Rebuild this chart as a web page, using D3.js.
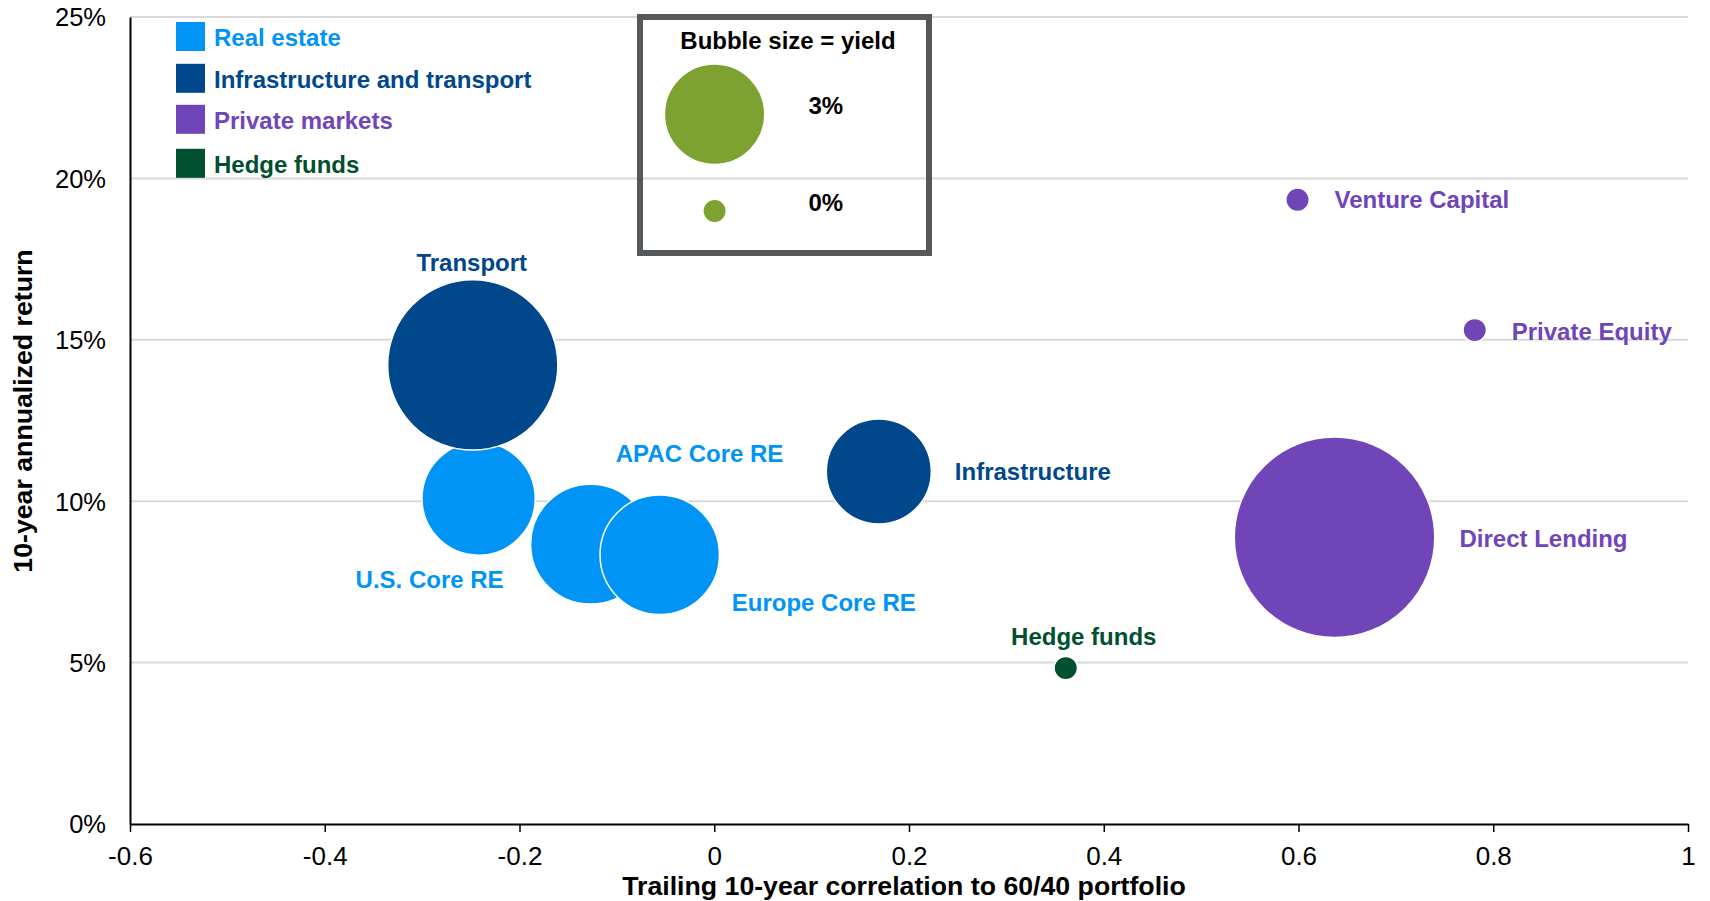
<!DOCTYPE html>
<html><head><meta charset="utf-8">
<script src="https://cdn.jsdelivr.net/npm/d3@7"></script>
<style>body{margin:0;background:#fff;} svg{display:block;font-family:"Liberation Sans",Arial,Helvetica,sans-serif;}</style>
</head><body><svg id="chart" width="1710" height="901"></svg>
<script>
// ---- data ----
const names = ["U.S. Core RE","APAC Core RE","Europe Core RE","Transport","Infrastructure","Venture Capital","Private Equity","Direct Lending","Hedge funds"];
const groups = ["Real estate","Real estate","Real estate","Infrastructure and transport","Infrastructure and transport","Private markets","Private markets","Private markets","Hedge funds"];
const correlation = [-0.242,-0.127,-0.056,-0.248,0.169,0.599,0.781,0.637,0.361];
const annualReturn = [10.08,8.67,8.34,14.22,10.92,19.34,15.30,8.88,4.83];
const yieldPct = [3.5,3.76,3.74,5.72,3.18,0,0,6.9,0];
const categories = ["Real estate","Infrastructure and transport","Private markets","Hedge funds"];
const xTicks = [-0.6,-0.4,-0.2,0,0.2,0.4,0.6,0.8,1];
const xTickLabels = ["-0.6","-0.4","-0.2","0","0.2","0.4","0.6","0.8","1"];
const yTicks = [0,5,10,15,20,25];
const yTickLabels = ["0%","5%","10%","15%","20%","25%"];
const sizeLegendValues = [3,0];
const sizeLegendLabels = ["3%","0%"];
const xTitle = "Trailing 10-year correlation to 60/40 portfolio";
const yTitle = "10-year annualized return";
const sizeTitle = "Bubble size = yield";

// ---- styles / layout ----
const colors = {"Real estate":"#0094F6","Infrastructure and transport":"#00478B","Private markets":"#7045B8","Hedge funds":"#00502F"};
const legendBubbleColor = "#7DA232";
const labelLayout = {
  "U.S. Core RE":{dx:-49,dy:81,anchor:"middle"},
  "APAC Core RE":{dx:109,dy:-91,anchor:"middle"},
  "Europe Core RE":{dx:72,dy:48,anchor:"start"},
  "Transport":{dx:-1,dy:-102,anchor:"middle"},
  "Infrastructure":{dx:76,dy:0,anchor:"start"},
  "Venture Capital":{dx:37,dy:0,anchor:"start"},
  "Private Equity":{dx:37,dy:1,anchor:"start"},
  "Direct Lending":{dx:125,dy:1,anchor:"start"},
  "Hedge funds":{dx:18,dy:-31,anchor:"middle"}
};

const svg = d3.select("#chart");
const x = d3.scaleLinear().domain([-0.6,1]).range([130,1688]);
const y = d3.scaleLinear().domain([0,25]).range([824,17]);
const r = d3.scaleLinear().domain([0,3]).range([11.7,50.2]);

const points = names.map((n,i)=>({name:n,group:groups[i],cx:correlation[i],ret:annualReturn[i],yld:yieldPct[i]}));

// gridlines
svg.append("g").selectAll("line").data(yTicks.filter(d=>d>0)).join("line")
  .attr("x1",x(-0.6)).attr("x2",x(1)).attr("y1",d=>y(d)).attr("y2",d=>y(d))
  .attr("stroke","#D9D9D9").attr("stroke-width",2);

// x axis
const xAxis = svg.append("g").attr("transform",`translate(0,${y(0)})`)
  .call(d3.axisBottom(x).tickValues(xTicks).tickFormat((d,i)=>xTickLabels[i]).tickSize(8).tickSizeOuter(0));
xAxis.select(".domain").attr("stroke","#000").attr("stroke-width",2);
xAxis.selectAll(".tick line").attr("stroke","#000").attr("stroke-width",1.5);
xAxis.selectAll(".tick text").attr("y",32).attr("dy","0.35em").attr("fill","#000")
  .style("font-size","26px");

// y axis
const yAxis = svg.append("g").attr("transform",`translate(${x(-0.6)},0)`)
  .call(d3.axisLeft(y).tickValues(yTicks).tickFormat((d,i)=>yTickLabels[i]).tickSize(0).tickSizeOuter(0));
yAxis.select(".domain").attr("stroke","#000").attr("stroke-width",2);
yAxis.selectAll(".tick text").attr("x",-24).attr("dy","0.35em").attr("fill","#000")
  .style("font-size","25.5px");

// axis titles
svg.append("text").attr("x",904).attr("y",886).attr("dy","0.35em").attr("text-anchor","middle")
  .style("font-size","26.7px").style("font-weight","bold").attr("fill","#000").text(xTitle);
svg.append("text").attr("transform","translate(23,411) rotate(-90)").attr("dy","0.35em").attr("text-anchor","middle")
  .style("font-size","26.7px").style("font-weight","bold").attr("fill","#000").text(yTitle);

// bubbles
svg.append("g").selectAll("circle").data(points).join("circle")
  .attr("cx",d=>x(d.cx)).attr("cy",d=>y(d.ret)).attr("r",d=>r(d.yld))
  .attr("fill",d=>colors[d.group]).attr("stroke","#fff").attr("stroke-width",1.5);

// bubble labels
svg.append("g").selectAll("text").data(points).join("text")
  .attr("x",d=>x(d.cx)+labelLayout[d.name].dx).attr("y",d=>y(d.ret)+labelLayout[d.name].dy)
  .attr("dy","0.35em").attr("text-anchor",d=>labelLayout[d.name].anchor)
  .attr("fill",d=>colors[d.group]).style("font-size","24px").style("font-weight","bold")
  .text(d=>d.name);

// category legend
const legendY = [36.5,78.3,119.3,163.3];
const lg = svg.append("g").selectAll("g").data(categories).join("g")
  .attr("transform",(d,i)=>`translate(176,${legendY[i]})`);
lg.append("rect").attr("x",0).attr("y",-14.5).attr("width",29).attr("height",29).attr("fill",d=>colors[d]);
lg.append("text").attr("x",38).attr("y",1).attr("dy","0.35em").attr("fill",d=>colors[d])
  .style("font-size","24px").style("font-weight","bold").text(d=>d);

// size legend
const sl = svg.append("g");
sl.append("rect").attr("x",640).attr("y",17).attr("width",289).attr("height",236)
  .attr("fill","none").attr("stroke","#54585A").attr("stroke-width",6);
sl.append("text").attr("x",788).attr("y",41).attr("dy","0.35em").attr("text-anchor","middle")
  .style("font-size","24px").style("font-weight","bold").attr("fill","#000").text(sizeTitle);
const slY = [114.2,211];
sl.selectAll("circle").data(sizeLegendValues).join("circle")
  .attr("cx",714.6).attr("cy",(d,i)=>slY[i]).attr("r",d=>r(d))
  .attr("fill",legendBubbleColor).attr("stroke","#fff").attr("stroke-width",1.5);
sl.selectAll("text.lab").data(sizeLegendLabels).join("text").attr("class","lab")
  .attr("x",808.5).attr("y",(d,i)=>slY[i]-8.5).attr("dy","0.35em")
  .style("font-size","24px").style("font-weight","bold").attr("fill","#000").text(d=>d);
</script></body></html>
